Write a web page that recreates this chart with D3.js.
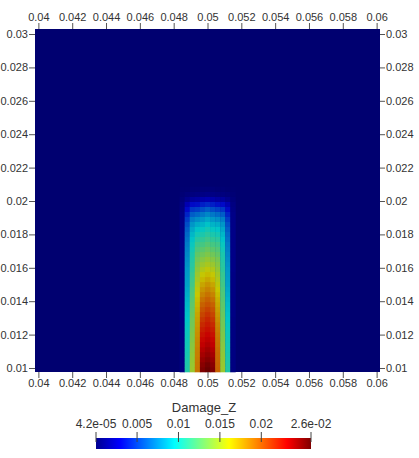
<!DOCTYPE html>
<html>
<head>
<meta charset="utf-8">
<script src="https://d3js.org/d3.v7.min.js"></script>
<style>
  body { margin: 0; background: #ffffff; }
  text { font-family: "Liberation Sans", Arial, sans-serif; fill: #333333; }
</style>
</head>
<body>
<div id="chart"></div>
<script>
//tick values for the four axes and the colour bar
var xTicks = [0.04, 0.042, 0.044, 0.046, 0.048, 0.05, 0.052, 0.054, 0.056, 0.058, 0.06];
var yTicks = [0.01, 0.012, 0.014, 0.016, 0.018, 0.02, 0.022, 0.024, 0.026, 0.028, 0.03];
var barTicks = [0.000042, 0.005, 0.01, 0.015, 0.02, 0.026];
var barTickLabels = ["4.2e-05", "0.005", "0.01", "0.015", "0.02", "2.6e-02"];

//mesh columns (offset from x = 0.05, in cells), each column listed bottom row to top row
var columnOffsets = [-5, -4, -3, -2, -1, 0, 1, 2, 3, 4, 5];
var colM5 = [0.0006,0.0006,0.0006,0.0006,0.0006,0.0006,0.0006,0.0006,0.0006,0.0006,0.0006,0.0007,0.0007,0.0007,0.0007,0.0007,0.0007,0.0007,0.0007,0.0007,0.0008,0.0008,0.0008,0.0008,0.0008,0.0008,0.0008,0.0008,0.0008,0.0008,0.0008,0.0008,0.0007,0.0006,0.0004,0.0002,0.0001];
var colM4 = [0.0106,0.0105,0.0104,0.0103,0.0102,0.0101,0.0100,0.0099,0.0098,0.0097,0.0095,0.0094,0.0092,0.0091,0.0089,0.0087,0.0085,0.0083,0.0082,0.0081,0.0080,0.0078,0.0076,0.0074,0.0072,0.0070,0.0067,0.0064,0.0060,0.0055,0.0049,0.0041,0.0032,0.0022,0.0010,0.0004,0.0001];
var colM3 = [0.0146,0.0145,0.0144,0.0143,0.0141,0.0140,0.0138,0.0137,0.0135,0.0133,0.0132,0.0130,0.0128,0.0126,0.0124,0.0122,0.0120,0.0117,0.0115,0.0113,0.0110,0.0108,0.0106,0.0104,0.0101,0.0098,0.0094,0.0090,0.0085,0.0079,0.0071,0.0060,0.0047,0.0032,0.0015,0.0005,0.0002];
var colM2 = [0.0190,0.0189,0.0188,0.0187,0.0186,0.0184,0.0183,0.0181,0.0179,0.0177,0.0175,0.0173,0.0170,0.0167,0.0164,0.0161,0.0158,0.0154,0.0150,0.0146,0.0142,0.0137,0.0132,0.0127,0.0121,0.0115,0.0108,0.0101,0.0094,0.0086,0.0076,0.0064,0.0050,0.0034,0.0017,0.0006,0.0002];
var colM1 = [0.0252,0.0249,0.0245,0.0241,0.0237,0.0233,0.0229,0.0225,0.0221,0.0217,0.0212,0.0207,0.0202,0.0197,0.0191,0.0185,0.0179,0.0173,0.0166,0.0160,0.0153,0.0146,0.0139,0.0132,0.0125,0.0118,0.0111,0.0104,0.0097,0.0089,0.0080,0.0069,0.0055,0.0039,0.0020,0.0007,0.0003];
var col0  = [0.0258,0.0255,0.0250,0.0246,0.0242,0.0238,0.0234,0.0230,0.0226,0.0222,0.0218,0.0213,0.0208,0.0202,0.0197,0.0191,0.0185,0.0179,0.0172,0.0165,0.0158,0.0151,0.0144,0.0137,0.0130,0.0123,0.0116,0.0109,0.0102,0.0094,0.0085,0.0074,0.0060,0.0043,0.0022,0.0008,0.0003];
var colP1 = [0.0252,0.0249,0.0245,0.0241,0.0237,0.0233,0.0229,0.0225,0.0221,0.0217,0.0212,0.0207,0.0202,0.0197,0.0191,0.0185,0.0179,0.0173,0.0166,0.0160,0.0153,0.0146,0.0139,0.0132,0.0125,0.0118,0.0111,0.0104,0.0097,0.0089,0.0080,0.0069,0.0055,0.0039,0.0020,0.0007,0.0003];
var colP2 = [0.0197,0.0196,0.0195,0.0194,0.0193,0.0191,0.0190,0.0188,0.0186,0.0184,0.0181,0.0178,0.0175,0.0172,0.0169,0.0165,0.0161,0.0157,0.0153,0.0149,0.0144,0.0139,0.0134,0.0128,0.0122,0.0116,0.0109,0.0102,0.0095,0.0087,0.0077,0.0065,0.0051,0.0035,0.0017,0.0006,0.0002];
var colP3 = [0.0146,0.0145,0.0144,0.0143,0.0141,0.0140,0.0138,0.0137,0.0135,0.0133,0.0132,0.0130,0.0128,0.0126,0.0124,0.0122,0.0120,0.0117,0.0115,0.0113,0.0110,0.0108,0.0106,0.0104,0.0101,0.0098,0.0094,0.0090,0.0085,0.0079,0.0071,0.0060,0.0047,0.0032,0.0015,0.0005,0.0002];
var colP4 = [0.0106,0.0105,0.0104,0.0103,0.0102,0.0101,0.0100,0.0099,0.0098,0.0097,0.0095,0.0094,0.0092,0.0091,0.0089,0.0087,0.0085,0.0083,0.0082,0.0081,0.0080,0.0078,0.0076,0.0074,0.0072,0.0070,0.0067,0.0064,0.0060,0.0055,0.0049,0.0041,0.0032,0.0022,0.0010,0.0004,0.0001];
var colP5 = [0.0006,0.0006,0.0006,0.0006,0.0006,0.0006,0.0006,0.0006,0.0006,0.0006,0.0006,0.0007,0.0007,0.0007,0.0007,0.0007,0.0007,0.0007,0.0007,0.0007,0.0008,0.0008,0.0008,0.0008,0.0008,0.0008,0.0008,0.0008,0.0008,0.0008,0.0008,0.0008,0.0007,0.0006,0.0004,0.0002,0.0001];
var damageColumns = [colM5, colM4, colM3, colM2, colM1, col0, colP1, colP2, colP3, colP4, colP5];

//jet colour map (paraview preset), positions 0..1 along the range
var jetPositions = [0, 0.1111, 0.3651, 0.4921, 0.6190, 0.8889, 1];
var jetColors = ["#000090", "#0000ff", "#00ffff", "#80ff80", "#ffff00", "#ff0000", "#800000"];

var rangeMin = 0.000042;
var rangeMax = 0.026;

//mesh geometry
var cellSize = 0.0003;
var meshCenterX = 0.05;
var meshBottomY = 0.00976;

//svg size and plot area
var svgWidth = 419;
var svgHeight = 458;
var plot = { left: 35, right: 380, top: 29, bottom: 372 };

var svg = d3.select("#chart")
  .append("svg")
  .attr("width", svgWidth)
  .attr("height", svgHeight);

//scales
var xScale = d3.scaleLinear()
  .domain([0.0398, 0.0602])
  .range([plot.left, plot.right]);

var yScale = d3.scaleLinear()
  .domain([meshBottomY, 0.0303])
  .range([plot.bottom, plot.top]);

var colorScale = d3.scaleLinear()
  .domain(jetPositions.map(p => rangeMin + p * (rangeMax - rangeMin)))
  .range(jetColors)
  .clamp(true);

//surface in the render is lit, so colours come out a bit darker than the bar
function shaded(v) {
  var c = d3.rgb(colorScale(v));
  return d3.rgb(c.r * 0.78, c.g * 0.78, c.b * 0.78).toString();
}

//background of the mesh (minimum value)
svg.append("rect")
  .attr("x", plot.left)
  .attr("y", plot.top)
  .attr("width", plot.right - plot.left)
  .attr("height", plot.bottom - plot.top)
  .attr("fill", shaded(rangeMin));

//build cells
var cells = [];
damageColumns.forEach(function(col, i) {
  col.forEach(function(v, k) {
    cells.push({
      x0: meshCenterX + (columnOffsets[i] - 0.5) * cellSize,
      y0: meshBottomY + k * cellSize,
      value: v
    });
  });
});

svg.append("g")
  .selectAll("rect")
  .data(cells)
  .enter()
  .append("rect")
  .attr("x", d => xScale(d.x0))
  .attr("y", d => yScale(d.y0 + cellSize))
  .attr("width", d => xScale(d.x0 + cellSize) - xScale(d.x0) + 0.3)
  .attr("height", d => yScale(d.y0) - yScale(d.y0 + cellSize) + 0.3)
  .attr("fill", d => shaded(d.value));

//axes
var fmt = d => String(+d.toFixed(3));

function styleAxis(g) {
  g.select(".domain").remove();
  g.selectAll("line").attr("stroke", "#555555");
  g.selectAll("text")
    .attr("font-family", "Liberation Sans, Arial, sans-serif")
    .attr("font-size", "11px")
    .attr("fill", "#333333");
}

svg.append("g")
  .attr("transform", `translate(0, ${plot.top})`)
  .call(d3.axisTop(xScale).tickValues(xTicks).tickSize(6).tickPadding(2).tickFormat(fmt))
  .call(styleAxis);

svg.append("g")
  .attr("transform", `translate(0, ${plot.bottom})`)
  .call(d3.axisBottom(xScale).tickValues(xTicks).tickSize(6).tickPadding(1).tickFormat(fmt))
  .call(styleAxis);

svg.append("g")
  .attr("transform", `translate(${plot.left}, 0)`)
  .call(d3.axisLeft(yScale).tickValues(yTicks).tickSize(6).tickPadding(1).tickFormat(fmt))
  .call(styleAxis);

svg.append("g")
  .attr("transform", `translate(${plot.right}, 0)`)
  .call(d3.axisRight(yScale).tickValues(yTicks).tickSize(5).tickPadding(1).tickFormat(fmt))
  .call(styleAxis);

//colour bar
var barScale = d3.scaleLinear()
  .domain([rangeMin, rangeMax])
  .range([96, 311]);

var grad = svg.append("defs")
  .append("linearGradient")
  .attr("id", "jet")
  .attr("x1", "0%").attr("x2", "100%")
  .attr("y1", "0%").attr("y2", "0%");

grad.selectAll("stop")
  .data(jetPositions)
  .enter()
  .append("stop")
  .attr("offset", d => (d * 100) + "%")
  .attr("stop-color", (d, i) => jetColors[i]);

svg.append("rect")
  .attr("x", barScale(rangeMin))
  .attr("y", 438)
  .attr("width", barScale(rangeMax) - barScale(rangeMin))
  .attr("height", 11)
  .attr("fill", "url(#jet)");

svg.append("g")
  .selectAll("line")
  .data(barTicks)
  .enter()
  .append("line")
  .attr("x1", d => barScale(d))
  .attr("x2", d => barScale(d))
  .attr("y1", 432)
  .attr("y2", 442)
  .attr("stroke", "#444444")
  .attr("stroke-width", 1);

svg.append("g")
  .selectAll("text")
  .data(barTicks)
  .enter()
  .append("text")
  .attr("x", d => barScale(d))
  .attr("y", 428)
  .attr("text-anchor", "middle")
  .attr("font-size", "12px")
  .text((d, i) => barTickLabels[i]);

svg.append("text")
  .attr("x", 204)
  .attr("y", 412)
  .attr("text-anchor", "middle")
  .attr("font-size", "13px")
  .text("Damage_Z");
</script>
</body>
</html>
